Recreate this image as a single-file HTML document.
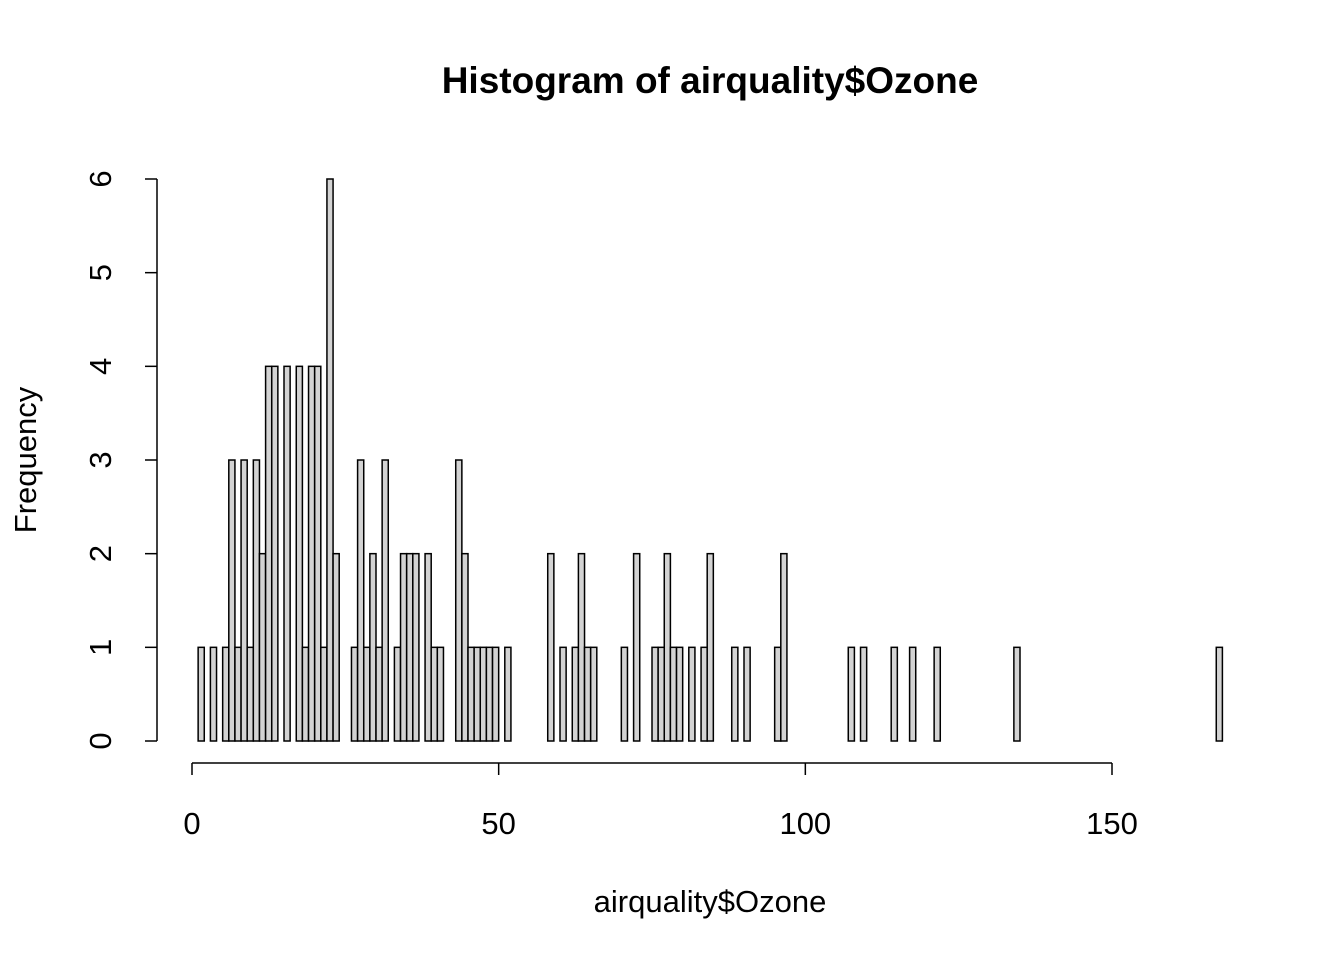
<!DOCTYPE html>
<html><head><meta charset="utf-8"><style>
body{margin:0;background:#fff}
svg{display:block;font-family:"Liberation Sans",Arial,sans-serif}
</style></head><body>
<svg id="chart" width="1344" height="960">
<text x="710" y="93" text-anchor="middle" font-size="37" font-weight="bold">Histogram of airquality$Ozone</text>
<text x="710" y="912" text-anchor="middle" font-size="31">airquality$Ozone</text>
<text transform="translate(36,460) rotate(-90)" text-anchor="middle" font-size="31">Frequency</text>
<g id="bars"></g>
<g id="xaxis"></g>
<g id="yaxis"></g>
</svg>
<script>
const ozoneValues=[1,4,6,7,8,9,10,11,12,13,14,16,18,19,20,21,22,23,24,27,28,29,30,31,32,34,35,36,37,39,40,41,44,45,46,47,48,49,50,52,59,61,63,64,65,66,71,73,76,77,78,79,80,82,84,85,89,91,96,97,108,110,115,118,122,135,168];
const ozoneCounts=[1,1,1,3,1,3,1,3,2,4,4,4,4,1,4,4,1,6,2,1,3,1,2,1,3,1,2,2,2,2,1,1,3,2,1,1,1,1,1,1,2,1,1,2,1,1,1,2,1,1,2,1,1,1,1,2,1,1,1,2,1,1,1,1,1,1,1];
const xTicks=[0,50,100,150];
const yTicks=[0,1,2,3,4,5,6];
const breakMin=1, breakMax=168;
const NS="http://www.w3.org/2000/svg";
const sx=v=>192+v*(920/150);
const sy=v=>741-v*(562/6);
const bins={};
for(let k=breakMin+1;k<=breakMax;k++)bins[k]=0;
ozoneValues.forEach((v,i)=>{let k=Math.max(Math.ceil(v),breakMin+1);bins[k]+=ozoneCounts[i];});
const bg=document.getElementById('bars');
for(let k=breakMin+1;k<=breakMax;k++){
  const r=document.createElementNS(NS,'rect');
  const x0=sx(k-1),x1=sx(k),c=bins[k];
  r.setAttribute('x',x0);r.setAttribute('width',x1-x0);
  r.setAttribute('y',sy(c));r.setAttribute('height',sy(0)-sy(c));
  r.setAttribute('fill','#d3d3d3');r.setAttribute('stroke','#000');r.setAttribute('stroke-width','1.5');
  
  
  bg.appendChild(r);
}
const xa=document.getElementById('xaxis');
let h='<line x1="'+sx(xTicks[0])+'" x2="'+sx(xTicks[xTicks.length-1])+'" y1="763" y2="763" stroke="#000" stroke-width="1.5"/>';
xTicks.forEach(t=>{h+='<line x1="'+sx(t)+'" x2="'+sx(t)+'" y1="763" y2="775" stroke="#000" stroke-width="1.5"/><text x="'+sx(t)+'" y="834" text-anchor="middle" font-size="31">'+t+'</text>';});
xa.innerHTML=h;
const ya=document.getElementById('yaxis');
h='<line x1="157" x2="157" y1="'+sy(yTicks[0])+'" y2="'+sy(yTicks[yTicks.length-1])+'" stroke="#000" stroke-width="1.5"/>';
yTicks.forEach(t=>{h+='<line x1="145" x2="157" y1="'+sy(t)+'" y2="'+sy(t)+'" stroke="#000" stroke-width="1.5"/><text transform="translate(111,'+sy(t)+') rotate(-90)" text-anchor="middle" font-size="31">'+t+'</text>';});
ya.innerHTML=h;
</script>
</body></html>
